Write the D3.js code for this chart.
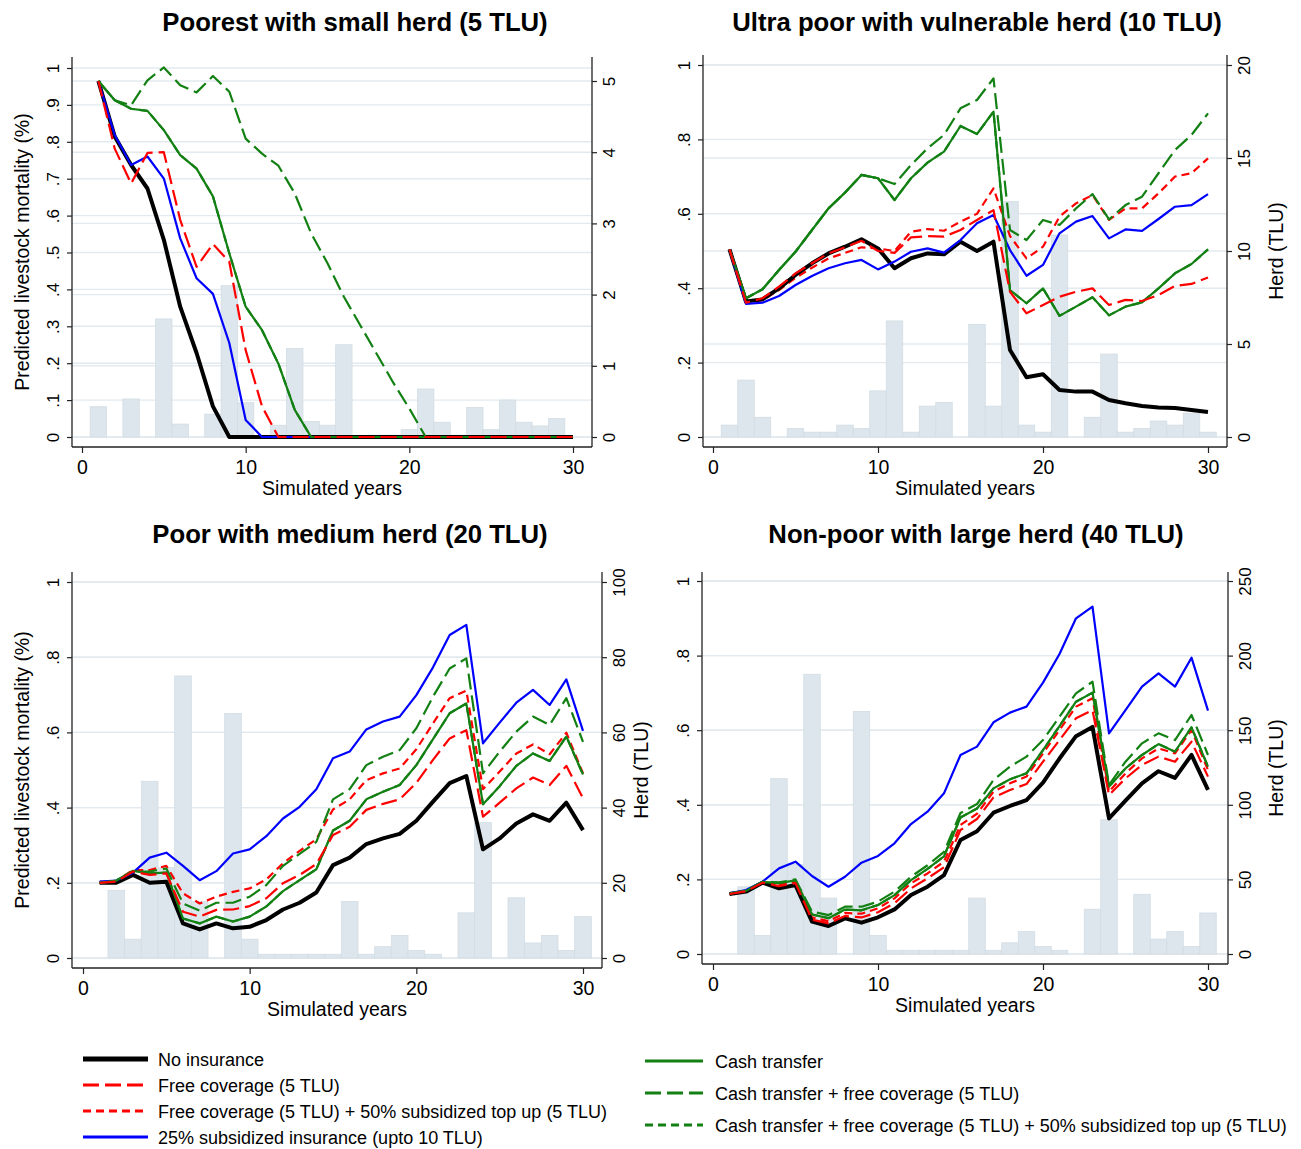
<!DOCTYPE html>
<html>
<head>
<meta charset="utf-8">
<script src="https://cdn.jsdelivr.net/npm/d3@7"></script>
<style>
  body { margin: 0; background: #fff; }
  text { font-family: "Liberation Sans", Arial, Helvetica, sans-serif; }
</style>
</head>
<body>
<svg id="chart" width="1301" height="1149"></svg>
<script>
// simulated years
var years = [1,2,3,4,5,6,7,8,9,10,11,12,13,14,15,16,17,18,19,20,21,22,23,24,25,26,27,28,29,30];
var xTicks = [0, 10, 20, 30];
var leftTicksFine = [0, .1, .2, .3, .4, .5, .6, .7, .8, .9, 1];
var leftTicks = [0, .2, .4, .6, .8, 1];

// Panel 1 - poorest, 5 TLU (herd on right axis, mortality bars on left axis)
var p1RightTicks = [0, 1, 2, 3, 4, 5];
var p1Bars = [0.082,0,0.103,0,0.32,0.035,0,0.062,0.41,0.093,0,0.032,0.24,0.042,0.032,0.25,0,0.005,0.005,0.02,0.13,0.04,0.005,0.08,0.02,0.10,0.04,0.03,0.05,0];
var p1NoIns = [5.0,4.22,3.82,3.49,2.77,1.83,1.18,0.43,0,0,0,0,0,0,0,0,0,0,0,0,0,0,0,0,0,0,0,0,0,0];
var p1Free = [5.0,4.05,3.56,3.99,4.0,3.05,2.39,2.71,2.46,1.22,0.43,0,0,0,0,0,0,0,0,0,0,0,0,0,0,0,0,0,0,0];
var p1Topup = [5.0,4.22,3.82,3.49,2.77,1.83,1.18,0.43,0,0,0,0,0,0,0,0,0,0,0,0,0,0,0,0,0,0,0,0,0,0];
var p1Subs = [5.0,4.24,3.82,3.94,3.63,2.79,2.23,2.01,1.32,0.24,0,0,0,0,0,0,0,0,0,0,0,0,0,0,0,0,0,0,0,0];
var p1Cash = [5.0,4.73,4.61,4.58,4.31,3.96,3.77,3.38,2.58,1.83,1.50,1.03,0.38,0,0,0,0,0,0,0,0,0,0,0,0,0,0,0,0,0];
var p1CashFree = [5.0,4.73,4.66,5.01,5.19,4.94,4.84,5.07,4.85,4.19,3.98,3.81,3.42,2.86,2.44,1.97,1.57,1.17,0.77,0.40,0,0,0,0,0,0,0,0,0,0];
var p1CashTopup = [5.0,4.73,4.61,4.58,4.31,3.96,3.77,3.38,2.58,1.83,1.50,1.03,0.38,0,0,0,0,0,0,0,0,0,0,0,0,0,0,0,0,0];

// Panel 2 - ultra poor, 10 TLU
var p2RightTicks = [0, 5, 10, 15, 20];
var p2Bars = [0.032,0.153,0.053,0,0.023,0.013,0.013,0.032,0.023,0.124,0.312,0.013,0.083,0.093,0,0.303,0.083,0.633,0.032,0.013,0.543,0,0.053,0.223,0.013,0.023,0.043,0.032,0.064,0.013];
var p2NoIns = [10.09,7.28,7.40,7.99,8.71,9.34,9.87,10.23,10.63,10.14,9.07,9.61,9.87,9.82,10.5,10.0,10.5,4.68,3.21,3.37,2.53,2.44,2.44,1.99,1.81,1.67,1.59,1.56,1.45,1.34];
var p2Free = [10.09,7.22,7.46,8.08,8.8,9.34,9.87,10.2,10.55,10.0,9.9,10.73,10.8,10.77,11.13,11.67,12.2,7.81,6.65,7.1,7.54,7.81,7.99,7.1,7.37,7.31,7.63,8.12,8.23,8.58];
var p2Topup = [10.09,7.2,7.35,7.9,8.55,9.1,9.6,9.9,10.2,10.14,10.0,11.04,11.18,11.09,11.58,12.0,13.37,10.8,9.6,10.23,11.85,12.56,13.01,11.67,12.29,12.29,13.1,14.0,14.18,14.98];
var p2Subs = [10.09,7.15,7.22,7.58,8.17,8.66,9.07,9.34,9.52,9.01,9.43,9.96,10.14,9.91,10.59,11.49,11.94,10.05,8.67,9.25,10.95,11.58,11.88,10.68,11.16,11.08,11.72,12.38,12.47,13.06];
var p2Cash = [10.09,7.46,7.94,8.98,9.96,11.13,12.29,13.14,14.09,13.91,12.74,13.91,14.75,15.34,16.72,16.29,17.49,7.9,7.19,7.99,6.51,7.01,7.51,6.54,7.01,7.24,7.99,8.8,9.3,10.09];
var p2CashFree = [10.09,7.46,7.94,8.98,9.96,11.13,12.29,13.14,14.09,13.91,13.6,14.62,15.52,16.24,17.67,18.12,19.28,11.13,10.59,11.67,11.4,12.29,13.06,11.7,12.47,12.92,14.18,15.43,16.24,17.4];
var p2CashTopup = [10.09,7.46,7.94,8.98,9.96,11.13,12.29,13.14,14.09,13.91,12.74,13.91,14.75,15.34,16.72,16.29,17.49,7.9,7.19,7.99,6.51,7.01,7.51,6.54,7.01,7.24,7.99,8.8,9.3,10.09];

// Panel 3 - poor, 20 TLU
var p3RightTicks = [0, 20, 40, 60, 80, 100];
var p3Bars = [0,0.18,0.05,0.47,0.24,0.75,0.15,0,0.65,0.05,0.01,0.01,0.01,0.01,0.01,0.15,0.01,0.03,0.06,0.02,0.01,0,0.12,0.36,0,0.16,0.04,0.06,0.02,0.11];
var p3NoIns = [20.0,20.0,22.1,20.0,20.3,9.2,7.6,9.2,7.9,8.3,10.1,12.9,14.7,17.4,24.7,26.7,30.3,31.8,33.0,36.5,41.6,46.5,48.4,28.9,31.8,35.8,38.2,36.5,41.3,34.0];
var p3Free = [20.0,20.3,23.0,22.1,22.5,12.3,11.0,12.8,12.9,13.8,15.9,19.9,22.1,25.0,32.7,34.9,39.4,41.0,42.2,46.6,52.7,58.4,60.6,37.6,41.3,45.1,48.0,46.0,51.1,42.5];
var p3Topup = [20.0,20.5,23.4,23.4,24.5,17.2,14.5,16.3,17.6,18.5,20.9,25.2,28.5,31.6,39.5,42.2,47.3,49.1,50.4,55.5,62.4,69.1,71.1,44.9,49.6,54.4,56.8,54.2,59.9,49.1];
var p3Subs = [20.3,20.6,22.7,26.7,28.0,24.5,20.7,23.1,27.8,28.9,32.4,37.1,40.2,44.9,53.1,54.9,60.8,62.9,64.2,69.9,77.3,85.9,88.6,57.1,62.6,67.9,71.3,67.3,74.1,60.4];
var p3Cash = [20.0,20.6,23.2,22.5,22.7,10.5,9.2,11.0,9.7,11.0,13.7,17.8,20.7,23.6,33.9,36.5,42.2,44.2,46.0,51.3,58.2,65.1,67.7,40.9,45.7,51.1,54.4,52.4,58.9,48.8];
var p3CashFree = [20.0,20.5,23.0,23.0,23.8,14.5,12.6,14.7,14.7,16.3,19.4,24.5,27.7,30.9,42.2,44.9,51.3,53.5,55.3,61.1,69.5,77.0,79.7,49.1,54.9,60.2,64.2,62.0,69.1,57.5];
var p3CashTopup = [20.0,20.6,23.2,22.5,22.7,10.5,9.2,11.0,9.7,11.0,13.7,17.8,20.7,23.6,33.9,36.5,42.2,44.2,46.0,51.3,58.2,65.1,67.7,40.9,45.7,51.1,54.4,52.4,58.9,48.8];

// Panel 4 - non-poor, 40 TLU
var p4RightTicks = [0, 50, 100, 150, 200, 250];
var p4Bars = [0,0.18,0.05,0.47,0.24,0.75,0.15,0,0.65,0.05,0.01,0.01,0.01,0.01,0.01,0.15,0.01,0.03,0.06,0.02,0.01,0,0.12,0.36,0,0.16,0.04,0.06,0.02,0.11];
var p4NoIns = [40.2,41.8,47.8,44.0,46.2,21.7,18.8,23.9,21.0,24.6,29.9,39.5,45.1,52.9,76.4,82.3,94.7,99.2,103.2,114.8,131.0,146.0,152.2,90.9,102.8,114.4,122.5,118.0,133.4,110.0];
var p4Free = [40.2,42.0,47.8,45.5,47.5,23.0,20.5,25.5,24.5,28.0,34.0,44.0,50.7,58.1,83.1,90.5,105.0,109.9,113.9,128.9,143.4,158.0,163.5,106.6,117.7,126.7,132.3,128.9,142.3,118.9];
var p4Topup = [40.3,42.0,48.0,46.5,48.5,24.5,22.0,27.5,27.0,30.6,37.3,47.4,54.0,61.9,86.5,94.0,108.8,114.4,118.9,134.5,150.1,165.8,171.4,108.8,121.1,131.1,137.8,134.5,150.1,123.3];
var p4Subs = [40.7,42.9,48.5,57.4,61.9,52.3,45.1,51.8,61.2,65.7,74.2,87.1,95.4,107.7,133.4,139.0,155.3,161.8,165.8,181.9,201.1,225.0,232.8,147.9,163.5,179.2,188.1,179.2,198.6,163.1];
var p4Cash = [40.5,42.3,48.2,47.5,49.3,26.5,24.0,29.8,29.3,32.8,39.5,49.5,57.0,65.5,91.5,97.5,111.0,117.1,121.1,136.7,152.8,169.1,175.2,112.2,124.4,133.4,140.7,135.6,151.9,125.6];
var p4CashFree = [40.5,42.5,48.5,48.0,50.0,28.4,26.1,31.7,31.7,35.1,41.8,51.8,59.5,68.5,94.5,100.5,116.6,125.6,132.3,143.4,159.0,174.7,182.5,113.3,128.9,141.2,147.9,143.4,160.2,133.4];
var p4CashTopup = [40.5,42.3,48.2,47.5,49.3,26.5,24.0,29.8,29.3,32.8,39.5,49.5,57.0,65.5,91.5,97.5,111.0,117.1,121.1,136.7,152.8,169.1,175.2,112.2,124.4,133.4,140.7,135.6,151.9,125.6];

var legendLabels = [
    "No insurance",
    "Free coverage (5 TLU)",
    "Free coverage (5 TLU) + 50% subsidized top up (5 TLU)",
    "25% subsidized insurance (upto 10 TLU)",
    "Cash transfer",
    "Cash transfer + free coverage (5 TLU)",
    "Cash transfer + free coverage (5 TLU) + 50% subsidized top up (5 TLU)"
];

var green = "#138013";
var styles = {
    noIns:     { color: "#000000", width: 4,   dash: null,   legendWidth: 5 },
    free:      { color: "#ff0000", width: 2.2, dash: "16,6", legendWidth: 3 },
    topup:     { color: "#ff0000", width: 2.2, dash: "8,5",  legendWidth: 3 },
    subs:      { color: "#0000ff", width: 2.2, dash: null,   legendWidth: 3 },
    cash:      { color: green,     width: 2.2, dash: null,   legendWidth: 3 },
    cashFree:  { color: green,     width: 2.2, dash: "16,6", legendWidth: 3 },
    cashTopup: { color: green,     width: 2.2, dash: "8,5",  legendWidth: 3 }
};
var legendKeys = ["noIns", "free", "topup", "subs", "cash", "cashFree", "cashTopup"];
var drawOrder = ["cashTopup", "topup", "noIns", "subs", "cash", "cashFree", "free"];

var panels = [
    { title: "Poorest with small herd (5 TLU)", bars: p1Bars, leftTicks: leftTicksFine, rightTicks: p1RightTicks,
      series: { noIns: p1NoIns, free: p1Free, topup: p1Topup, subs: p1Subs, cash: p1Cash, cashFree: p1CashFree, cashTopup: p1CashTopup },
      x0: 82, x30: 573, y0: 437, y1: 68, rMax: 5, yRmax: 81,
      axL: 72, axR: 592, axT: 57, axB: 447, titleX: 355, titleY: 31, leftTitle: true, rightTitleX: null },
    { title: "Ultra poor with vulnerable herd (10 TLU)", bars: p2Bars, leftTicks: leftTicks, rightTicks: p2RightTicks,
      series: { noIns: p2NoIns, free: p2Free, topup: p2Topup, subs: p2Subs, cash: p2Cash, cashFree: p2CashFree, cashTopup: p2CashTopup },
      x0: 713, x30: 1208, y0: 437, y1: 65, rMax: 20, yRmax: 65,
      axL: 703, axR: 1227, axT: 55, axB: 447, titleX: 977, titleY: 31, leftTitle: false, rightTitleX: 1283 },
    { title: "Poor with medium herd (20 TLU)", bars: p3Bars, leftTicks: leftTicks, rightTicks: p3RightTicks,
      series: { noIns: p3NoIns, free: p3Free, topup: p3Topup, subs: p3Subs, cash: p3Cash, cashFree: p3CashFree, cashTopup: p3CashTopup },
      x0: 83, x30: 583, y0: 958, y1: 582, rMax: 100, yRmax: 582,
      axL: 72, axR: 602, axT: 572, axB: 968, titleX: 350, titleY: 543, leftTitle: true, rightTitleX: 648 },
    { title: "Non-poor with large herd (40 TLU)", bars: p4Bars, leftTicks: leftTicks, rightTicks: p4RightTicks,
      series: { noIns: p4NoIns, free: p4Free, topup: p4Topup, subs: p4Subs, cash: p4Cash, cashFree: p4CashFree, cashTopup: p4CashTopup },
      x0: 713, x30: 1208, y0: 954, y1: 581, rMax: 250, yRmax: 581,
      axL: 702, axR: 1228, axT: 572, axB: 964, titleX: 976, titleY: 543, leftTitle: false, rightTitleX: 1283 }
];

function leftFmt(d) {
    if (d === 0) return "0";
    if (d === 1) return "1";
    return d3.format(".1f")(d).replace(/^0/, "");
}

var svg = d3.select("#chart");

function drawPanel(p) {
    var g = svg.append("g");
    var x = d3.scaleLinear().domain([0, 30]).range([p.x0, p.x30]);
    var yL = d3.scaleLinear().domain([0, 1]).range([p.y0, p.y1]);
    var yR = d3.scaleLinear().domain([0, p.rMax]).range([p.y0, p.yRmax]);

    // grid lines for both axes
    var grid = g.append("g");
    p.leftTicks.forEach(function (t) {
        grid.append("line").attr("x1", p.axL).attr("x2", p.axR)
            .attr("y1", yL(t)).attr("y2", yL(t))
            .attr("stroke", "#e2eaef").attr("stroke-width", 1.4);
    });
    p.rightTicks.forEach(function (t) {
        grid.append("line").attr("x1", p.axL).attr("x2", p.axR)
            .attr("y1", yR(t)).attr("y2", yR(t))
            .attr("stroke", "#e2eaef").attr("stroke-width", 1.4);
    });

    // mortality bars
    var bw = x(1) - x(0);
    g.append("g").selectAll("rect")
        .data(years.filter(function (d, i) { return p.bars[i] > 0; }))
        .enter().append("rect")
        .attr("x", function (d) { return x(d) - bw / 2; })
        .attr("width", bw)
        .attr("y", function (d) { return yL(p.bars[d - 1]); })
        .attr("height", function (d) { return yL(0) - yL(p.bars[d - 1]); })
        .attr("fill", "#dde6ec")
        .attr("stroke", "#d2dde4")
        .attr("stroke-width", 0.8);

    // herd lines
    var line = d3.line()
        .x(function (d, i) { return x(years[i]); })
        .y(function (d) { return yR(d); });
    drawOrder.forEach(function (k) {
        var s = styles[k];
        g.append("path")
            .datum(p.series[k])
            .attr("d", line)
            .attr("fill", "none")
            .attr("stroke", s.color)
            .attr("stroke-width", s.width)
            .attr("stroke-dasharray", s.dash)
            .attr("stroke-linejoin", "round");
    });

    // axis lines
    g.append("line").attr("x1", p.axL).attr("x2", p.axL).attr("y1", p.axT).attr("y2", p.axB)
        .attr("stroke", "#222").attr("stroke-width", 1.3);
    g.append("line").attr("x1", p.axR).attr("x2", p.axR).attr("y1", p.axT).attr("y2", p.axB)
        .attr("stroke", "#222").attr("stroke-width", 1.3);
    g.append("line").attr("x1", p.axL).attr("x2", p.axR).attr("y1", p.axB).attr("y2", p.axB)
        .attr("stroke", "#222").attr("stroke-width", 1.3);

    // left axis
    var la = g.append("g").attr("transform", "translate(" + p.axL + ",0)")
        .call(d3.axisLeft(yL).tickValues(p.leftTicks).tickFormat(leftFmt).tickSize(5).tickSizeOuter(0));
    la.select(".domain").remove();
    la.selectAll("line").attr("stroke", "#222").attr("stroke-width", 1.2);
    la.selectAll("text").attr("x", 0).attr("y", -13).attr("dy", null)
        .attr("transform", "rotate(-90)").attr("text-anchor", "middle")
        .attr("font-size", 17).attr("font-family", null).attr("fill", "#000");

    // right axis
    var ra = g.append("g").attr("transform", "translate(" + p.axR + ",0)")
        .call(d3.axisRight(yR).tickValues(p.rightTicks).tickFormat(d3.format("d")).tickSize(5).tickSizeOuter(0));
    ra.select(".domain").remove();
    ra.selectAll("line").attr("stroke", "#222").attr("stroke-width", 1.2);
    ra.selectAll("text").attr("x", 0).attr("y", 23).attr("dy", null)
        .attr("transform", "rotate(-90)").attr("text-anchor", "middle")
        .attr("font-size", 17).attr("font-family", null).attr("fill", "#000");

    // bottom axis
    var ba = g.append("g").attr("transform", "translate(0," + p.axB + ")")
        .call(d3.axisBottom(x).tickValues(xTicks).tickSize(6).tickSizeOuter(0));
    ba.select(".domain").remove();
    ba.selectAll("line").attr("stroke", "#222").attr("stroke-width", 1.2);
    ba.selectAll("text").attr("y", 27).attr("dy", null)
        .attr("font-size", 19.5).attr("font-family", null).attr("fill", "#000");

    // titles
    g.append("text").attr("x", p.titleX).attr("y", p.titleY)
        .attr("text-anchor", "middle").attr("font-size", 25.7).attr("font-weight", "bold")
        .text(p.title);
    g.append("text").attr("x", (p.axL + p.axR) / 2).attr("y", p.axB + 48)
        .attr("text-anchor", "middle").attr("font-size", 19.5)
        .text("Simulated years");
    if (p.leftTitle) {
        g.append("text")
            .attr("transform", "translate(29," + ((p.axT + p.axB) / 2) + ") rotate(-90)")
            .attr("text-anchor", "middle").attr("font-size", 19.5)
            .text("Predicted livestock mortality (%)");
    }
    if (p.rightTitleX) {
        g.append("text")
            .attr("transform", "translate(" + p.rightTitleX + "," + ((p.axT + p.axB) / 2) + ") rotate(-90)")
            .attr("text-anchor", "middle").attr("font-size", 19.5)
            .text("Herd (TLU)");
    }
}

panels.forEach(drawPanel);

// legend, two columns
var legPos = [
    { lx: 83, tx: 158, y: 1059 },
    { lx: 83, tx: 158, y: 1085 },
    { lx: 83, tx: 158, y: 1111 },
    { lx: 83, tx: 158, y: 1137 },
    { lx: 645, tx: 715, y: 1061 },
    { lx: 645, tx: 715, y: 1093 },
    { lx: 645, tx: 715, y: 1125 }
];
var leg = svg.append("g");
legendKeys.forEach(function (k, i) {
    var s = styles[k], pos = legPos[i];
    var len = i < 4 ? 65 : 58;
    leg.append("line")
        .attr("x1", pos.lx).attr("x2", pos.lx + len)
        .attr("y1", pos.y).attr("y2", pos.y)
        .attr("stroke", s.color).attr("stroke-width", s.legendWidth)
        .attr("stroke-dasharray", s.dash);
    leg.append("text").attr("x", pos.tx).attr("y", pos.y + 6.5)
        .attr("font-size", 18)
        .text(legendLabels[i]);
});
</script>
</body>
</html>
